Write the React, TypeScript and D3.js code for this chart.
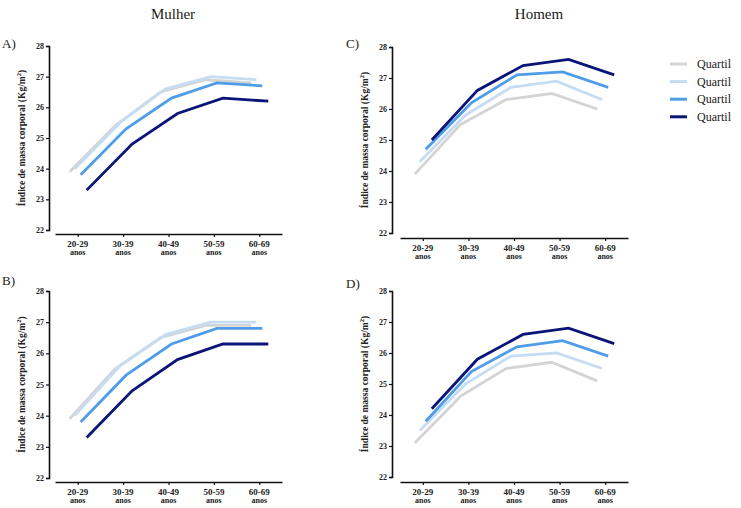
import { useEffect, useRef } from 'react';
import * as d3 from 'd3';

const ageGroups = ['20-29', '30-39', '40-49', '50-59', '60-69'];
const quartiles = ['Quartil', 'Quartil', 'Quartil', 'Quartil'];
const yTicks = [22, 23, 24, 25, 26, 27, 28];

// IMC médio por faixa etária, um array por quartil (Q1..Q4)
const mulherA = [
  [23.9, 25.4, 26.5, 26.9, 26.8],
  [24.0, 25.5, 26.6, 27.0, 26.9],
  [23.8, 25.3, 26.3, 26.8, 26.7],
  [23.3, 24.8, 25.8, 26.3, 26.2],
];
const mulherB = [
  [23.9, 25.5, 26.5, 26.9, 26.9],
  [24.0, 25.6, 26.6, 27.0, 27.0],
  [23.8, 25.3, 26.3, 26.8, 26.8],
  [23.3, 24.8, 25.8, 26.3, 26.3],
];
const homemC = [
  [23.9, 25.5, 26.3, 26.5, 26.0],
  [24.3, 25.8, 26.7, 26.9, 26.3],
  [24.7, 26.2, 27.1, 27.2, 26.7],
  [25.0, 26.6, 27.4, 27.6, 27.1],
];
const homemD = [
  [23.1, 24.6, 25.5, 25.7, 25.1],
  [23.5, 25.0, 25.9, 26.0, 25.5],
  [23.8, 25.4, 26.2, 26.4, 25.9],
  [24.2, 25.8, 26.6, 26.8, 26.3],
];

const colors = ['#d4d4d4', '#c5dcf3', '#4f9de8', '#0b1478'];
const FONT = "'Liberation Serif', 'DejaVu Serif', 'Times New Roman', serif";

const W = 741;
const H = 508;

export default function App() {
  const svgRef = useRef<SVGSVGElement>(null);

  useEffect(() => {
    if (!svgRef.current) return;
    const svg = d3.select(svgRef.current);
    svg.selectAll('*').remove();

    // column titles
    svg.append('text').attr('x', 173).attr('y', 19).attr('text-anchor', 'middle')
      .style('font-family', FONT).attr('font-size', '15px').attr('fill', '#1a1a1a').text('Mulher');
    svg.append('text').attr('x', 539).attr('y', 19).attr('text-anchor', 'middle')
      .style('font-family', FONT).attr('font-size', '15px').attr('fill', '#1a1a1a').text('Homem');

    const panels = [
      { label: 'A)', data: mulherA, axisX: 49, top: 46, bottom: 230, baseY: 234, x0: 55, x1: 282, lx: 2, ly: 48 },
      { label: 'B)', data: mulherB, axisX: 49, top: 291, bottom: 478, baseY: 482, x0: 55, x1: 282, lx: 2, ly: 285 },
      { label: 'C)', data: homemC, axisX: 392, top: 47, bottom: 233, baseY: 238, x0: 400, x1: 628, lx: 346, ly: 48 },
      { label: 'D)', data: homemD, axisX: 392, top: 291, bottom: 477, baseY: 482, x0: 400, x1: 628, lx: 346, ly: 288 },
    ];

    // small horizontal shift per quartil so the lines don't sit on top of each other
    const dodge = [-8, -3, 3, 9];

    panels.forEach(p => {
      const g = svg.append('g');

      const x = d3.scalePoint<string>().domain(ageGroups).range([p.x0, p.x1]).padding(0.5);
      const y = d3.scaleLinear().domain([22, 28]).range([p.bottom, p.top]);

      g.append('text').attr('x', p.lx).attr('y', p.ly)
        .style('font-family', FONT).attr('font-size', '13px').attr('fill', '#1a1a1a').text(p.label);

      // y axis
      const yAxis = g.append('g')
        .attr('transform', `translate(${p.axisX},0)`)
        .call(d3.axisLeft(y).tickValues(yTicks).tickSize(3).tickPadding(2).tickFormat(d3.format('d')));
      yAxis.select('.domain').attr('stroke', '#111').attr('stroke-width', 1.6);
      yAxis.selectAll('.tick line').attr('stroke', '#111').attr('stroke-width', 1.2);
      yAxis.selectAll('.tick text')
        .style('font-family', FONT).attr('font-size', '8px').attr('font-weight', 'bold').attr('fill', '#222');

      // x axis
      const xAxis = g.append('g')
        .attr('transform', `translate(0,${p.baseY})`)
        .call(d3.axisBottom(x).tickSize(3).tickSizeOuter(0).tickFormat(() => ''));
      xAxis.select('.domain').attr('stroke', '#111').attr('stroke-width', 1.6);
      xAxis.selectAll('.tick line').attr('stroke', '#111').attr('stroke-width', 1.2);
      ageGroups.forEach(a => {
        g.append('text').attr('x', x(a)!).attr('y', p.baseY + 13).attr('text-anchor', 'middle')
          .style('font-family', FONT).attr('font-size', '9px').attr('font-weight', 'bold').attr('fill', '#222').text(a);
        g.append('text').attr('x', x(a)!).attr('y', p.baseY + 21).attr('text-anchor', 'middle')
          .style('font-family', FONT).attr('font-size', '8px').attr('font-weight', 'bold').attr('fill', '#222').text('anos');
      });

      // y axis title
      const title = g.append('text')
        .attr('transform', `translate(${p.axisX - 24},${(p.top + p.bottom) / 2}) rotate(-90)`)
        .attr('text-anchor', 'middle')
        .style('font-family', FONT).attr('font-size', '9.5px').attr('font-weight', 'bold').attr('fill', '#222');
      title.append('tspan').text('Índice de massa corporal (Kg/m');
      title.append('tspan').attr('font-size', '6.5px').attr('dy', '-4').text('2');
      title.append('tspan').attr('dy', '4').text(')');

      // one line per quartil
      const line = d3.line<number>()
        .x((_, i) => x(ageGroups[i])!)
        .y(d => y(d));

      p.data.forEach((series, qi) => {
        g.append('path')
          .datum(series)
          .attr('transform', `translate(${dodge[qi]},0)`)
          .attr('d', line)
          .attr('fill', 'none')
          .attr('stroke', colors[qi])
          .attr('stroke-width', 2.8)
          .attr('stroke-linejoin', 'miter');
      });
    });

    // legend
    const legend = svg.append('g').attr('transform', 'translate(670,64)');
    quartiles.forEach((q, i) => {
      const row = legend.append('g').attr('transform', `translate(0,${i * 17.6})`);
      row.append('line').attr('x1', 0).attr('x2', 17).attr('y1', 0).attr('y2', 0)
        .attr('stroke', colors[i]).attr('stroke-width', 3);
      row.append('text').attr('x', 27).attr('y', 0).attr('dy', '0.35em')
        .style('font-family', FONT).attr('font-size', '12px').attr('fill', '#1a1a1a').text(q);
    });
  }, []);

  return (
    <svg
      ref={svgRef}
      width={W}
      height={H}
      style={{ position: 'absolute', left: 0, top: 0, background: '#fff' }}
    />
  );
}
